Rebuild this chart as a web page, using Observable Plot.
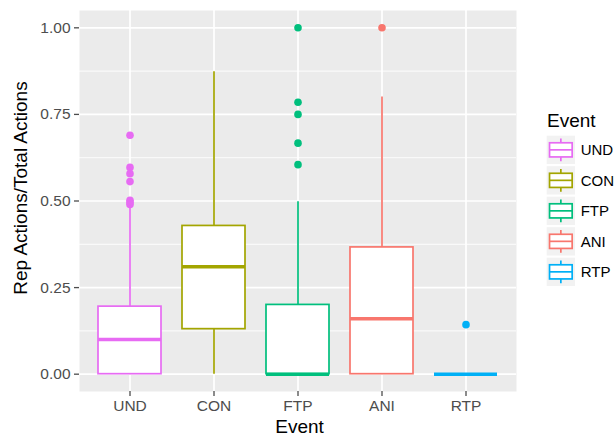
<!DOCTYPE html>
<html><head><meta charset="utf-8">
<script src="https://cdn.jsdelivr.net/npm/d3@7"></script>
<script src="https://cdn.jsdelivr.net/npm/@observablehq/plot@0.6"></script>
<style>
body{margin:0;background:#fff;font-family:"Liberation Sans",Arial,sans-serif;}
#wrap{position:relative;width:615px;height:435px;}
#chart{position:absolute;left:0;top:0;}
#legend{position:absolute;left:546px;top:100px;}
</style></head><body>
<div id="wrap"><div id="chart"></div><div id="legend"></div></div>
<script>
// ---- data ----
const events = ["UND", "CON", "FTP", "ANI", "RTP"];
const colors = ["#E76BF3", "#A3A500", "#00BF7D", "#F8766D", "#00B0F6"];
const whiskerLow = [0, 0, 0, 0, 0];
const q1 = [0, 0.13, 0, 0, 0];
const median = [0.1, 0.31, 0, 0.16, 0];
const q3 = [0.195, 0.428, 0.2, 0.366, 0];
const whiskerHigh = [0.485, 0.873, 0.498, 0.8, 0];
const outlierEvent = ["UND","UND","UND","UND","UND","UND","UND","FTP","FTP","FTP","FTP","FTP","ANI","RTP"];
const outlierValue = [0.69, 0.597, 0.579, 0.556, 0.502, 0.496, 0.49, 1.0, 0.785, 0.75, 0.667, 0.605, 1.0, 0.143];
const yTicks = [0, 0.25, 0.5, 0.75, 1.0];
const yMinor = [0.125, 0.375, 0.625, 0.875];
const xTitle = "Event";
const yTitle = "Rep Actions/Total Actions";
const legendTitle = "Event";

// ---- tables ----
const boxes = events.map((e, i) => ({event: e, lo: whiskerLow[i], q1: q1[i], median: median[i], q3: q3[i], hi: whiskerHigh[i]}));
const outliers = outlierEvent.map((e, i) => ({event: e, value: outlierValue[i]}));

const chart = Plot.plot({
  width: 530, height: 435,
  marginLeft: 79, marginRight: 14, marginTop: 10, marginBottom: 44,
  style: {fontFamily: "Liberation Sans, Arial, sans-serif", fontSize: "15.5px", background: "white", overflow: "visible"},
  x: {type: "band", domain: events, paddingInner: 0.25, paddingOuter: 0.225, label: null},
  y: {domain: [-0.05, 1.05], label: null},
  color: {domain: events, range: colors},
  marks: [
    Plot.frame({fill: "#EBEBEB", stroke: null}),
    Plot.ruleY(yMinor, {stroke: "white", strokeWidth: 0.9}),
    Plot.ruleY(yTicks, {stroke: "white", strokeWidth: 1.7}),
    Plot.ruleX(events, {x: d => d, stroke: "white", strokeWidth: 1.7}),
    Plot.ruleX(boxes, {x: "event", y1: "q3", y2: "hi", stroke: "event", strokeWidth: 1.7}),
    Plot.ruleX(boxes, {x: "event", y1: "lo", y2: "q1", stroke: "event", strokeWidth: 1.7}),
    Plot.barY(boxes, {x: "event", y1: "q1", y2: "q3", fill: "white", stroke: "event", strokeWidth: 1.7}),
    Plot.tickY(boxes, {x: "event", y: "median", stroke: "event", strokeWidth: 3.6}),
    Plot.dot(outliers, {x: "event", y: "value", fill: "event", r: 3.8}),
    Plot.axisY({ticks: yTicks, tickFormat: d3.format(".2f"), tickSize: 5, tickPadding: 4, fontSize: 15.5, color: "#4D4D4D", strokeWidth: 1.3, label: null}),
    Plot.axisX({tickSize: 5, tickPadding: 3, fontSize: 15.5, color: "#4D4D4D", strokeWidth: 1.3, label: null}),
    Plot.text([yTitle], {text: d => d, frameAnchor: "left", textAnchor: "middle", rotate: -90, dx: -58.5, dy: -13, fontSize: 19, lineAnchor: "middle", fill: "black"}),
    Plot.text([xTitle], {text: d => d, frameAnchor: "bottom", textAnchor: "middle", dx: 1.5, dy: 35, fontSize: 19, lineAnchor: "middle", fill: "black"})
  ]
});
document.getElementById("chart").appendChild(chart);

// ---- legend ----
const key = 28.3, step = 30.5;
const lg = d3.select("#legend").append("svg").attr("width", 69).attr("height", 200)
  .style("overflow", "visible")
  .style("font-family", "Liberation Sans, Arial, sans-serif");
lg.append("text").attr("x", 1).attr("y", 27).attr("font-size", 19).attr("fill", "black").text(legendTitle);
events.forEach((e, i) => {
  const g = lg.append("g").attr("transform", `translate(0.7,${35.7 + i * step})`);
  const c = colors[i];
  g.append("rect").attr("width", key).attr("height", key).attr("fill", "#F2F2F2");
  g.append("line").attr("x1", key/2).attr("x2", key/2).attr("y1", key*0.1).attr("y2", key*0.25).attr("stroke", c).attr("stroke-width", 1.7);
  g.append("line").attr("x1", key/2).attr("x2", key/2).attr("y1", key*0.75).attr("y2", key*0.9).attr("stroke", c).attr("stroke-width", 1.7);
  g.append("rect").attr("x", key*0.1).attr("y", key*0.25).attr("width", key*0.8).attr("height", key*0.5).attr("fill", "white").attr("stroke", c).attr("stroke-width", 1.7);
  g.append("line").attr("x1", key*0.1).attr("x2", key*0.9).attr("y1", key/2).attr("y2", key/2).attr("stroke", c).attr("stroke-width", 1.7);
  g.append("text").attr("x", 34).attr("y", key/2).attr("dy", "0.36em").attr("font-size", 15).attr("fill", "black").text(e);
});
</script>
</body></html>
